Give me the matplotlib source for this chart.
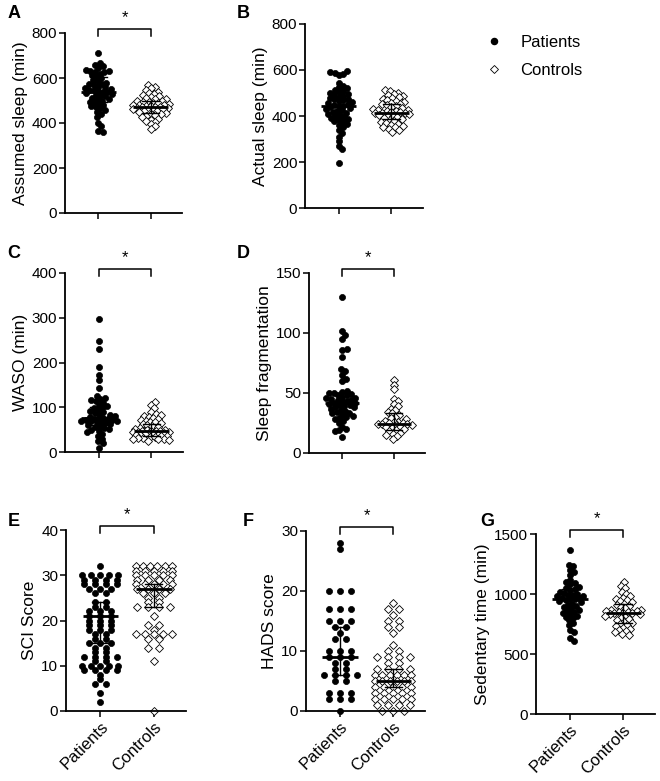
import matplotlib
matplotlib.use('Agg')
import matplotlib.pyplot as plt
from matplotlib.lines import Line2D
import numpy as np

plt.rcParams['font.family'] = ['Liberation Sans', 'DejaVu Sans']

groups = ['Patients', 'Controls']

# A: assumed sleep (min)
a_pat = [712, 668, 660, 652, 645, 636, 632, 630, 628, 625, 620, 612, 605, 598, 590, 585, 580, 575,
         572, 568, 562, 558, 555, 552, 548, 545, 542, 540, 538, 535, 530, 525, 520, 518, 512, 508,
         505, 500, 495, 490, 485, 480, 475, 470, 465, 460, 450, 440, 428, 400, 385, 365, 362]
a_con = [570, 562, 555, 548, 540, 535, 530, 525, 520, 515, 512, 508, 505, 500, 498, 495, 492, 490,
         488, 485, 482, 480, 478, 476, 474, 472, 470, 470, 468, 466, 464, 462, 460, 458, 455, 452,
         450, 446, 442, 438, 435, 430, 425, 420, 415, 410, 405, 395, 385, 372]
# B: actual sleep (min)
b_pat = [595, 590, 588, 582, 578, 545, 532, 525, 520, 515, 510, 505, 500, 496, 492, 488, 484, 480,
         476, 472, 468, 464, 460, 456, 452, 448, 445, 442, 438, 434, 430, 426, 422, 418, 414, 410,
         405, 400, 396, 392, 388, 384, 378, 372, 366, 360, 350, 340, 325, 310, 290, 270, 255, 195]
b_con = [515, 508, 502, 496, 490, 486, 482, 478, 474, 470, 466, 462, 458, 454, 450, 446, 442, 438,
         434, 430, 428, 425, 422, 420, 418, 416, 415, 414, 412, 410, 406, 402, 398, 394, 390, 386,
         382, 378, 374, 370, 366, 362, 358, 354, 350, 345, 340, 332]
# C: WASO (min)
c_pat = [298, 247, 230, 190, 173, 160, 143, 125, 120, 118, 116, 114, 110, 106, 102, 100, 98, 95,
         92, 90, 88, 85, 82, 80, 78, 76, 75, 74, 73, 72, 71, 70, 70, 69, 68, 66, 65, 63, 60, 58,
         56, 54, 52, 50, 48, 45, 40, 35, 30, 25, 20, 8]
c_con = [112, 106, 98, 90, 85, 82, 80, 78, 76, 74, 72, 70, 68, 66, 64, 62, 60, 58, 56, 54, 52, 50,
         49, 48, 47, 46, 46, 45, 45, 44, 43, 42, 41, 40, 39, 38, 37, 36, 35, 34, 33, 32, 31, 30,
         29, 28, 27, 25]
# D: sleep fragmentation
d_pat = [130, 102, 98, 95, 87, 86, 80, 70, 68, 65, 62, 60, 52, 51, 50, 50, 49, 48, 48, 47, 46, 46,
         45, 44, 44, 43, 43, 42, 42, 41, 40, 40, 39, 38, 38, 37, 36, 35, 34, 33, 33, 32, 31, 30,
         29, 28, 27, 25, 22, 20, 19, 18, 13]
d_con = [61, 57, 53, 45, 43, 41, 39, 37, 36, 34, 33, 32, 30, 29, 28, 27, 26, 26, 25, 25, 24, 24,
         24, 23, 23, 22, 22, 21, 20, 19, 18, 17, 16, 15, 14, 12]
# E: SCI score
e_pat = [32, 30, 30, 30, 30, 30, 29, 29, 29, 29, 28, 28, 28, 28, 27, 27, 27, 26, 26, 24, 24, 23, 23,
         22, 22, 22, 21, 21, 21, 20, 20, 20, 19, 19, 19, 18, 18, 18, 17, 17, 16, 16, 15, 15, 15,
         14, 14, 13, 13, 12, 12, 12, 12, 11, 11, 10, 10, 10, 10, 10, 9, 9, 9, 9, 8, 7, 6, 6, 4, 2]
e_con = [32, 32, 32, 32, 32, 32, 31, 31, 31, 31, 31, 30, 30, 30, 30, 30, 29, 29, 29, 29, 28, 28, 28,
         28, 28, 27, 27, 27, 27, 26, 26, 26, 25, 25, 24, 24, 23, 23, 23, 23, 21, 19, 19, 18, 17,
         17, 17, 17, 17, 16, 16, 14, 14, 11, 0]
# F: HADS score
f_pat = [28, 27, 20, 20, 20, 17, 17, 17, 15, 15, 15, 14, 14, 13, 12, 12, 10, 10, 10, 9, 9, 9, 8, 8,
         7, 7, 6, 6, 6, 6, 5, 5, 3, 3, 3, 2, 2, 2, 0]
f_con = [18, 17, 17, 16, 15, 15, 14, 14, 13, 11, 10, 10, 9, 9, 9, 9, 8, 8, 7, 7, 7, 7, 6, 6, 6, 6,
         6, 6, 5, 5, 5, 5, 5, 5, 4, 4, 4, 4, 4, 3, 3, 3, 3, 3, 2, 2, 2, 2, 2, 1, 1, 1, 1, 0, 0, 0]
# G: sedentary time (min)
g_pat = [1370, 1240, 1230, 1200, 1180, 1160, 1120, 1100, 1090, 1080, 1060, 1050, 1040, 1030, 1020,
         1010, 1000, 995, 990, 985, 980, 970, 965, 960, 955, 950, 940, 930, 920, 910, 900, 890,
         880, 870, 860, 850, 840, 830, 820, 810, 800, 780, 760, 740, 700, 680, 630, 610]
g_con = [1100, 1070, 1050, 1020, 1000, 980, 970, 960, 950, 940, 930, 920, 910, 900, 890, 880, 870,
         865, 860, 855, 850, 848, 845, 842, 840, 835, 830, 820, 810, 800, 790, 780, 770, 760, 750,
         740, 730, 720, 710, 700, 690, 680, 670, 660]

# median, (Q1, Q3): [patients, controls]
medians = {'A': [540, 470], 'B': [445, 415], 'C': [75, 46], 'D': [42, 24],
           'E': [21, 27], 'F': [9, 5], 'G': [960, 845]}
iqrs = {'A': [(495, 605), (445, 500)], 'B': [(395, 505), (385, 450)], 'C': [(60, 100), (35, 62)],
        'D': [(33, 50), (19, 33)], 'E': [(15, 24), (23, 28)], 'F': [(6, 14), (4, 7)],
        'G': [(880, 1040), (760, 920)]}

# letter, pixel box (left, top, right, bottom), y max, y step, y label, data, star, group labels, score rows
panels = [
    ('A', (65, 33, 182, 213), 800, 200, 'Assumed sleep (min)', (a_pat, a_con), True, False, False),
    ('B', (305, 24, 423, 208), 800, 200, 'Actual sleep (min)', (b_pat, b_con), False, False, False),
    ('C', (65, 273, 183, 452), 400, 100, 'WASO (min)', (c_pat, c_con), True, False, False),
    ('D', (309, 273, 425, 453), 150, 50, 'Sleep fragmentation', (d_pat, d_con), True, False, False),
    ('E', (66, 530, 186, 711), 40, 10, 'SCI Score', (e_pat, e_con), True, True, True),
    ('F', (306, 531, 425, 711), 30, 10, 'HADS score', (f_pat, f_con), True, True, True),
    ('G', (536, 534, 655, 714), 1500, 500, 'Sedentary time (min)', (g_pat, g_con), True, True, False),
]
letter_pos = {'A': (14, 13), 'B': (243, 14), 'C': (14, 254), 'D': (243, 254),
              'E': (14, 521), 'F': (248, 521), 'G': (487, 521)}

W, H = 660, 781
XLIM = (-0.64, 1.6)


def swarm(vals, scale, d, cap=18.0):
    # horizontal offsets (px): spread markers sideways, but never wider than +-cap
    ys = np.asarray(vals, dtype=float) * scale
    offs = np.zeros(len(ys))
    placed = []
    lim = 0.75 * d
    steps = [0.0]
    k = 1
    while k * 0.5 <= cap:
        steps += [k * 0.5, -k * 0.5]
        k += 1
    order = np.argsort(np.abs(ys - np.median(ys)))
    for i in order:
        y = ys[i]
        best, best_gap = 0.0, -1.0
        for s in steps:
            if placed:
                p = np.array(placed)
                gap = np.min(np.hypot(p[:, 0] - s, p[:, 1] - y))
            else:
                gap = np.inf
            if gap >= lim:
                best = s
                break
            if gap > best_gap:
                best, best_gap = s, gap
        offs[i] = best
        placed.append((best, y))
    return offs


def rows(vals, spacing=11.0, cap=18.0):
    # identical scores side by side in a centred row (px)
    vals = np.asarray(vals)
    offs = np.zeros(len(vals))
    for v in np.unique(vals):
        idx = np.where(vals == v)[0]
        n = len(idx)
        if n > 1:
            sp = min(spacing, 2 * cap / (n - 1))
            offs[idx] = (np.arange(n) - (n - 1) / 2) * sp
    return offs


fig = plt.figure(figsize=(W / 100, H / 100), dpi=100)

for letter, (l, t, r, b), ymax, ystep, ylabel, data, star, show_x, scored in panels:
    ax = fig.add_axes([l / W, (H - b) / H, (r - l) / W, (b - t) / H])
    ax.set_xlim(*XLIM)
    ax.set_ylim(0, ymax)
    px_per_unit = (r - l) / (XLIM[1] - XLIM[0])
    px_per_val = (b - t) / ymax

    for gi, vals in enumerate(data):
        if scored:
            offs = rows(vals) / px_per_unit
        else:
            offs = swarm(vals, px_per_val, 6.0) / px_per_unit
        if gi == 0:
            ax.plot(gi + offs, vals, 'o', ms=4.4, mfc='black', mec='black', mew=0.5,
                    linestyle='none', clip_on=False, zorder=2)
        else:
            ax.plot(gi + offs, vals, 'D', ms=4.0, mfc='white', mec='black', mew=0.6,
                    linestyle='none', clip_on=False, zorder=2)
        med = medians[letter][gi]
        q1, q3 = iqrs[letter][gi]
        ax.plot([gi - 0.33, gi + 0.33], [med, med], color='black', lw=2.0, zorder=4,
                solid_capstyle='butt')
        ax.plot([gi, gi], [q1, q3], color='black', lw=1.0, zorder=4)
        for q in (q1, q3):
            ax.plot([gi - 0.16, gi + 0.16], [q, q], color='black', lw=1.0, zorder=4)

    ax.set_yticks(np.arange(0, ymax + 1, ystep))
    ax.set_xticks([0, 1])
    if show_x:
        ax.set_xticklabels(groups, rotation=45, ha='right', rotation_mode='anchor', fontsize=12)
    else:
        ax.set_xticklabels([])
    ax.tick_params(axis='y', labelsize=11, width=1.1, length=4, pad=1.5)
    ax.tick_params(axis='x', width=1.1, length=4, pad=2)
    ax.set_ylabel(ylabel, fontsize=12.5, labelpad=3)
    for side in ('top', 'right'):
        ax.spines[side].set_visible(False)
    for side in ('left', 'bottom'):
        ax.spines[side].set_linewidth(1.3)

    if star:
        top = ymax * (1 + 4.0 / (b - t))
        arm = ymax * (1 - 3.0 / (b - t))
        ax.plot([0, 0, 1, 1], [arm, top, top, arm], color='black', lw=1.1, clip_on=False)
        ax.text(0.5, top + ymax * 4.0 / (b - t), '*', ha='center', va='bottom', fontsize=12)

    lx, ly = letter_pos[letter]
    fig.text(lx / W, 1 - ly / H, letter, fontsize=13, fontweight='bold', ha='center', va='center')

handles = [Line2D([], [], marker='o', ms=4.4, mfc='black', mec='black', linestyle='none'),
           Line2D([], [], marker='D', ms=4.0, mfc='white', mec='black', mew=0.6, linestyle='none')]
fig.legend(handles, groups, loc='upper left', bbox_to_anchor=(462 / W, 1 - 20 / H), frameon=False,
           fontsize=12, handletextpad=0.6, labelspacing=0.75)

fig.savefig('out.png', dpi=100)
